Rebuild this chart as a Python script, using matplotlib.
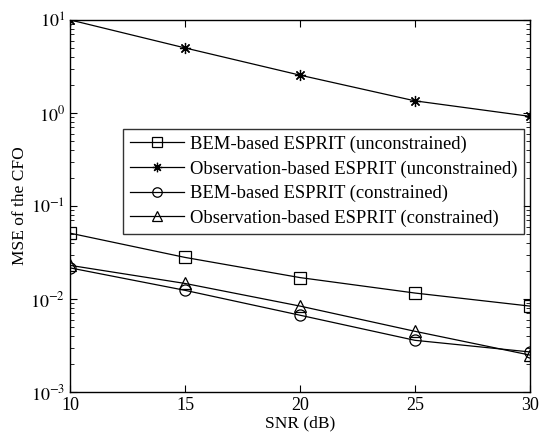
import matplotlib
matplotlib.use("Agg")
import matplotlib.pyplot as plt
from matplotlib.ticker import LogLocator, NullFormatter

plt.rcParams['font.family'] = ['Liberation Serif', 'DejaVu Serif']
plt.rcParams['mathtext.fontset'] = 'stix'

# SNR values (dB)
snr = [10, 15, 20, 25, 30]

# MSE of the CFO
bem_unc = [0.051, 0.028, 0.017, 0.0116, 0.0084]
obs_unc = [10.0, 5.0, 2.55, 1.35, 0.92]
bem_con = [0.0216, 0.0124, 0.0067, 0.0036, 0.0027]
obs_con = [0.023, 0.0147, 0.0084, 0.0045, 0.0025]

labels = ['BEM-based ESPRIT (unconstrained)',
          'Observation-based ESPRIT (unconstrained)',
          'BEM-based ESPRIT (constrained)',
          'Observation-based ESPRIT (constrained)']

fig = plt.figure(figsize=(5.4, 4.43), dpi=100)
ax = fig.add_axes([0.13, 0.115, 0.851, 0.84])

kw = dict(color='black', lw=0.9, mfc='none', mec='black', mew=0.9)
ax.semilogy(snr, bem_unc, marker='s', ms=8, label=labels[0], **kw)
ax.semilogy(snr, obs_unc, marker=(8, 2, 0), ms=8, label=labels[1], **kw)
ax.semilogy(snr, bem_con, marker='o', ms=8, label=labels[2], **kw)
ax.semilogy(snr, obs_con, marker='^', ms=9, label=labels[3], **kw)

ax.set_xlim(10, 30)
ax.set_ylim(1e-3, 1e1)
ax.set_xticks(snr)
ax.yaxis.set_minor_locator(LogLocator(base=10, subs=range(2, 10), numticks=20))
ax.yaxis.set_minor_formatter(NullFormatter())
ax.set_yticks([1e-3, 1e-2, 1e-1, 1e0, 1e1])
ax.set_yticklabels([r'$10^{-3}$', r'$10^{-2}$', r'$10^{-1}$', r'$10^{0}$', r'$10^{1}$'])

ax.tick_params(which='both', direction='in', top=True, right=True, labelsize=13)
ax.tick_params(which='major', length=5)
ax.tick_params(which='minor', length=3)
for s in ax.spines.values():
    s.set_linewidth(1.0)

ax.set_xlabel('SNR (dB)', fontsize=12.5, labelpad=1)
ax.set_ylabel('MSE of the CFO', fontsize=12.5, labelpad=2)

leg = ax.legend(loc='upper left', bbox_to_anchor=(0.115, 0.707), fontsize=13.4,
                frameon=True, fancybox=False, edgecolor='black',
                handlelength=2.9, borderpad=0.35, labelspacing=0.4,
                handletextpad=0.35, borderaxespad=0, markerscale=0.85)
leg.get_frame().set_linewidth(1.0)

fig.savefig('out.png', dpi=100)
